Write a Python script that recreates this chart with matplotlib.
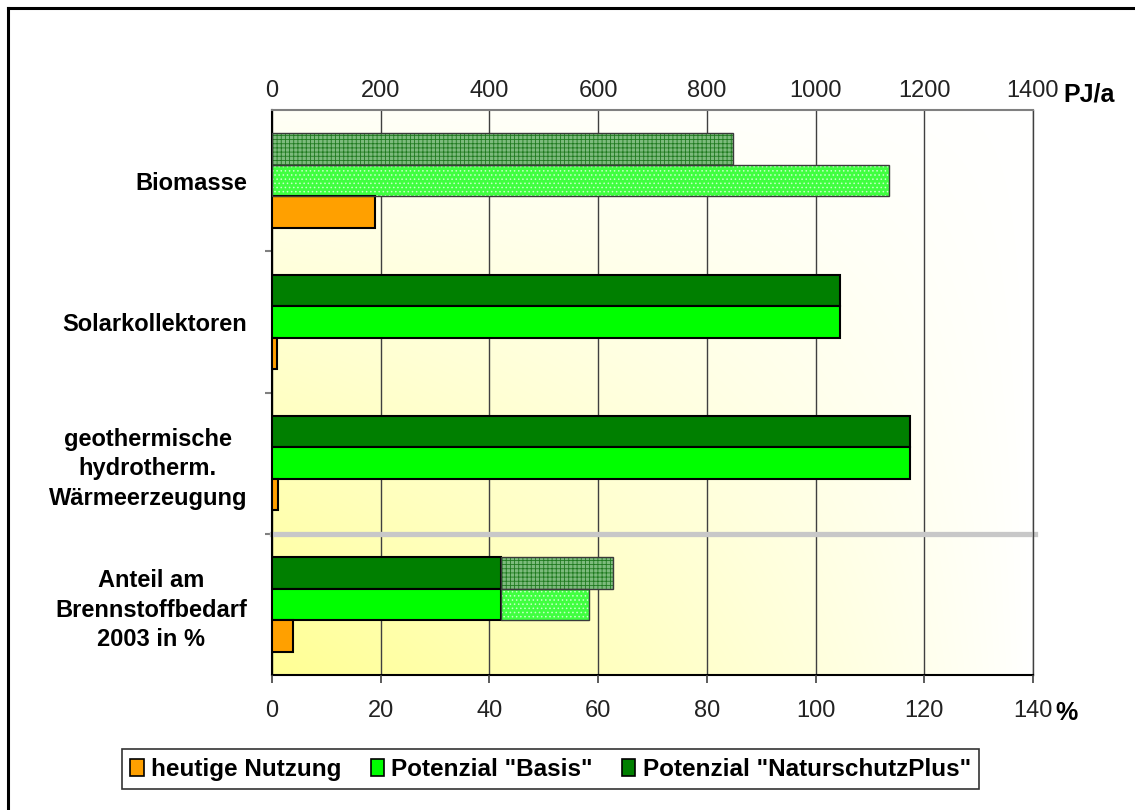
import matplotlib
matplotlib.use('Agg')
import matplotlib.pyplot as plt
import numpy as np
from matplotlib.lines import Line2D
from matplotlib.patches import Patch

plt.rcParams['font.family'] = ['Liberation Sans', 'DejaVu Sans']
plt.rcParams['hatch.linewidth'] = 0.6

# categories (top to bottom)
categories = ['Biomasse', 'Solarkollektoren',
              'geothermische\nhydrotherm.\nWärmeerzeugung',
              'Anteil am\nBrennstoffbedarf\n2003 in %']

# PJ/a values for the first three categories
heutige_pj = [190, 10, 11]
basis_pj = [1135, 1045, 1174]
natur_pj = [848, 1045, 1174]
is_biomass = [True, False, False]

# share of fuel demand 2003 in % (solid part + biomass part)
anteil_heutige = 3.9
anteil_basis_solid = 42.2
anteil_basis_bio = 16.2
anteil_natur_solid = 42.2
anteil_natur_bio = 20.6

legend_labels = ['heutige Nutzung', 'Potenzial "Basis"', 'Potenzial "NaturschutzPlus"']

c_heute = '#ffa000'
c_basis = '#00ff00'
c_natur = '#007f00'
bh = 0.223

fig = plt.figure(figsize=(11.35, 8.1), dpi=100)
ax = fig.add_axes([272 / 1135, 1 - 675 / 810, 761 / 1135, 565 / 810])
ax2 = ax.twiny()

# background gradient: yellow bottom-left, white top-right
nx, ny = 300, 150
X, Yb = np.meshgrid(np.linspace(0, 1, nx), np.linspace(0, 1, ny))
inten = (1 - X) ** 0.9 * (0.08 + 0.92 * Yb)
yellow = np.array([1.0, 1.0, 0.58])
img = 1 - inten[..., None] * (1 - yellow)
ax.imshow(img, extent=[0, 1400, 4, 0], aspect='auto', zorder=0, interpolation='bilinear')


def hbar(a, y, w, left, color, hatch=None, hcolor=None):
    if hatch:
        a.barh(y, w, left=left, height=bh, color=color, hatch=hatch,
               edgecolor=hcolor, linewidth=0, zorder=3)
        a.barh(y, w, left=left, height=bh, fill=False, edgecolor='#3a3a3a',
               linewidth=1.0, zorder=4)
    else:
        a.barh(y, w, left=left, height=bh, color=color, edgecolor='black',
               linewidth=1.5, zorder=3)


dark_hatch = ('#7dbb7d', '++++', '#1f7a1f')
light_hatch = ('#40ff40', '....', '#c8ffc8')

for i in range(3):
    yc = i + 0.5
    if is_biomass[i]:
        hbar(ax, yc - bh, natur_pj[i], 0, *dark_hatch)
        hbar(ax, yc, basis_pj[i], 0, *light_hatch)
    else:
        hbar(ax, yc - bh, natur_pj[i], 0, c_natur)
        hbar(ax, yc, basis_pj[i], 0, c_basis)
    hbar(ax, yc + bh, heutige_pj[i], 0, c_heute)

yc = 3.5
hbar(ax2, yc - bh, anteil_natur_solid, 0, c_natur)
hbar(ax2, yc - bh, anteil_natur_bio, anteil_natur_solid, *dark_hatch)
hbar(ax2, yc, anteil_basis_solid, 0, c_basis)
hbar(ax2, yc, anteil_basis_bio, anteil_basis_solid, *light_hatch)
hbar(ax2, yc + bh, anteil_heutige, 0, c_heute)

# grey separator between PJ and % part
ax.axhline(3, xmin=0, xmax=1.003, color='#c8c8c8', lw=3.8, zorder=2.5, clip_on=False)

# axes: PJ/a on top, % at bottom
ax.set_xlim(0, 1400)
ax.set_ylim(4, 0)
ax2.set_xlim(0, 140)
ax.xaxis.tick_top()
ax.set_xticks(range(0, 1401, 200))
ax.tick_params(axis='x', length=0, pad=6, labelsize=17, labelcolor='#222222')
ax.grid(axis='x', color='#404040', lw=1.0)
ax.set_axisbelow(True)

ax2.xaxis.set_ticks_position('bottom')
ax2.xaxis.set_label_position('bottom')
ax2.set_xticks(range(0, 141, 20))
ax2.tick_params(axis='x', length=6, width=1.2, color='#404040', pad=12,
                labelsize=17, labelcolor='#222222')
for s in ax2.spines.values():
    s.set_visible(False)

ax.set_yticks([1, 2, 3])
ax.set_yticklabels([])
ax.tick_params(axis='y', which='major', length=5, width=1.5, color='#808080')
ax.set_yticks([0.5, 1.5, 2.5, 3.5], minor=True)
ax.set_yticklabels(categories, minor=True, fontweight='bold', fontsize=17)
ax.tick_params(axis='y', which='minor', length=0, pad=18)
for lab in ax.get_yticklabels(minor=True):
    lab.set_multialignment('center')
    lab.set_linespacing(1.35)

ax.spines['left'].set_color('black')
ax.spines['left'].set_linewidth(1.5)
ax.spines['bottom'].set_color('black')
ax.spines['bottom'].set_linewidth(1.5)
ax.spines['top'].set_color('#808080')
ax.spines['top'].set_linewidth(1.5)
ax.spines['right'].set_color('#404040')
ax.spines['right'].set_linewidth(1.0)

fig.text(1063 / 1135, 1 - 101 / 810, 'PJ/a', ha='left', va='baseline',
         fontsize=18, fontweight='bold')
fig.text(1055 / 1135, 1 - 720 / 810, '%', ha='left', va='baseline',
         fontsize=18, fontweight='bold')

handles = [Patch(facecolor=c, edgecolor='black', linewidth=1.2)
           for c in (c_heute, c_basis, c_natur)]
leg = fig.legend(handles, legend_labels, loc='center', bbox_to_anchor=(0.485, 0.0506),
                 ncol=3, frameon=True, fancybox=False, edgecolor='black',
                 prop={'weight': 'bold', 'size': 17.5}, handlelength=0.55,
                 handleheight=0.7, handletextpad=0.3, columnspacing=1.2,
                 borderpad=0.35)
leg.get_frame().set_linewidth(1.2)

# outer frame (left and top only)
fig.add_artist(Line2D([8 / 1135, 8 / 1135], [0, 1 - 8 / 810], color='black', lw=2.2))
fig.add_artist(Line2D([8 / 1135, 1], [1 - 8 / 810, 1 - 8 / 810], color='black', lw=2.2))

fig.savefig('out.png', dpi=100)
